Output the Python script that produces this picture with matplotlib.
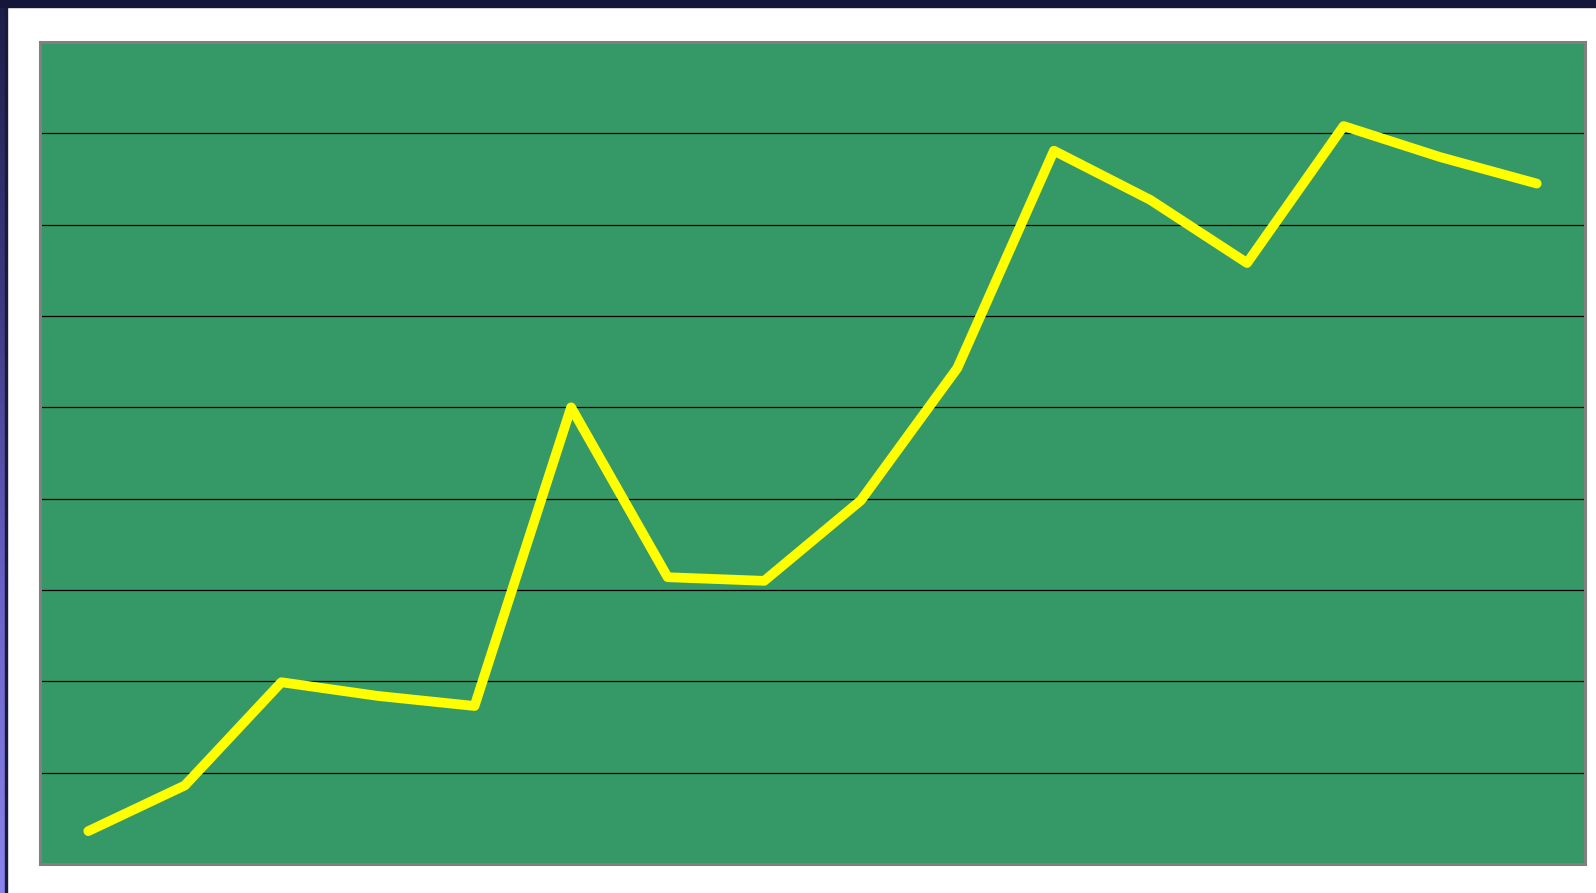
import numpy as np
import matplotlib.pyplot as plt

# values, one per category
categories = list(range(1, 17))
values = [0.36, 0.86, 1.99, 1.84, 1.73, 5.0, 3.14, 3.10,
          3.98, 5.43, 7.81, 7.27, 6.58, 8.08, 7.74, 7.45]
grid_levels = [1, 2, 3, 4, 5, 6, 7, 8]

W, H = 1596, 893
fig = plt.figure(figsize=(W / 100, H / 100), dpi=100)
fig.patch.set_facecolor('white')

# dark strips of the screenshot (top and left)
bg = fig.add_axes([0, 0, 1, 1], zorder=-5)
bg.axis('off')
bg.add_patch(plt.Rectangle((0, 0), W, 7, color='#16163a'))
grad = np.linspace(0, 1, 200).reshape(-1, 1)
bg.imshow(grad, extent=(0, 6, H, 0), aspect='auto',
          cmap=plt.matplotlib.colors.LinearSegmentedColormap.from_list(
              'strip', ['#1e1e48', '#3c3a80', '#6a62c8', '#8a84ec']))
bg.add_patch(plt.Rectangle((5, 7), 2, H, color='#1a1a3a'))
bg.set_xlim(0, W)
bg.set_ylim(H, 0)

ax = fig.add_axes([40 / W, 1 - 864 / H, 1545 / W, (864 - 42) / H])
ax.set_facecolor('#349966')
x = np.arange(len(categories))
for g in grid_levels:
    ax.axhline(g, color='black', lw=0.9, zorder=1)
ax.plot(x, values, color='#ffff00', lw=7, solid_capstyle='round',
        solid_joinstyle='round', zorder=3)
ax.set_xlim(-0.5, len(categories) - 0.5)
ax.set_ylim(0, 9)
ax.set_xticks([])
ax.set_yticks([])
for s in ax.spines.values():
    s.set_color('#808080')
    s.set_linewidth(2.2)

plt.savefig('out.png', dpi=100)
